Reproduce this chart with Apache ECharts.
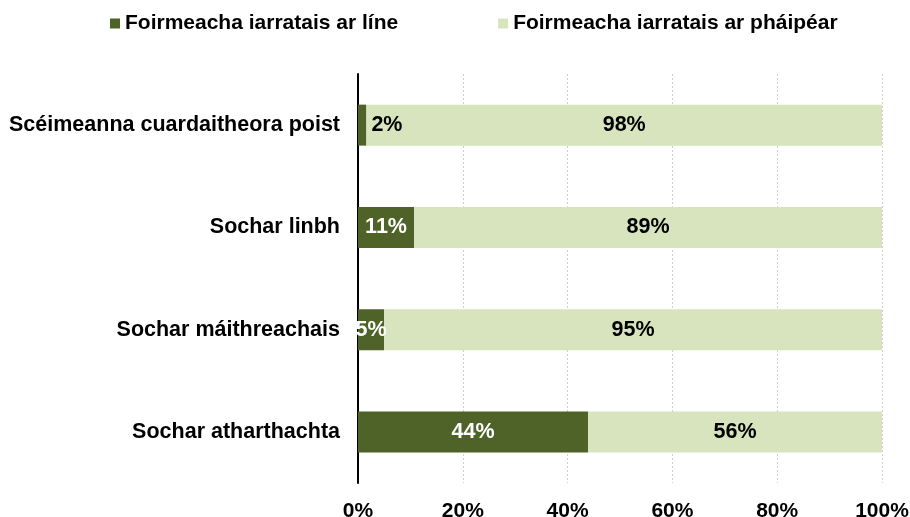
<!DOCTYPE html>
<html>
<head>
<meta charset="utf-8">
<script src="https://cdn.jsdelivr.net/npm/echarts@6/dist/echarts.min.js"></script>
<style>
    html, body {margin: 0; padding: 0; background: #fff;}
    #chart {width: 910px; height: 517px;}
</style>
</head>
<body>
<div id="chart"></div>
<script>
// categories, top to bottom
var categories = ['Scéimeanna cuardaitheora poist', 'Sochar linbh', 'Sochar máithreachais', 'Sochar atharthachta'];
var seriesNames = ['Foirmeacha iarratais ar líne', 'Foirmeacha iarratais ar pháipéar'];
// share of applications (%)
var onlineValues = [1.6, 10.7, 5.0, 43.9];
var paperValues = [98.4, 89.3, 95.0, 56.1];
var xTicks = [0, 20, 40, 60, 80, 100];

var FONT = '"Liberation Sans", Arial, sans-serif';
var DARK = '#4F6228';
var LIGHT = '#D7E4BD';

function pct(p) {
    return Math.round(p.value) + '%';
}

var chart = echarts.init(document.getElementById('chart'));

// small bars get their label outside, in black
var onlineData = onlineValues.map(function (v) {
    if (v < 3) {
        return {value: v, label: {position: 'right', distance: 5, color: '#000'}};
    }
    return v;
});

var labelStyle = {fontFamily: FONT, fontSize: 21.5, fontWeight: 'bold'};

var option = {
    animation: false,
    textStyle: {fontFamily: FONT},
    legend: {
        top: 8,
        left: 105,
        itemGap: 100,
        itemWidth: 10,
        itemHeight: 10,
        icon: 'rect',
        textStyle: {fontFamily: FONT, fontSize: 21, fontWeight: 'bold', color: '#000'},
        data: seriesNames
    },
    grid: {left: 358, right: 28, top: 74, bottom: 34, outerBoundsMode: 'none'},
    xAxis: {
        type: 'value',
        min: 0,
        max: 100,
        interval: 20,
        axisLine: {show: false},
        axisTick: {show: false},
        splitLine: {lineStyle: {color: '#cfcfcf', type: [2, 2], width: 1}},
        axisLabel: {
            margin: 18,
            fontFamily: FONT,
            fontSize: 21,
            fontWeight: 'bold',
            color: '#000',
            formatter: function (v) {
                return xTicks.indexOf(v) >= 0 ? v + '%' : '';
            }
        }
    },
    yAxis: {
        type: 'category',
        inverse: true,
        data: categories,
        axisLine: {lineStyle: {color: '#000', width: 2}},
        axisTick: {show: false},
        axisLabel: {margin: 18, fontFamily: FONT, fontSize: 21.5, fontWeight: 'bold', color: '#000'}
    },
    series: [
        {
            name: seriesNames[0],
            type: 'bar',
            stack: 'total',
            barWidth: 41,
            itemStyle: {color: DARK},
            label: echarts.util.extend({show: true, position: 'inside', color: '#fff', formatter: pct}, labelStyle),
            data: onlineData
        },
        {
            name: seriesNames[1],
            type: 'bar',
            stack: 'total',
            barWidth: 41,
            itemStyle: {color: LIGHT},
            label: echarts.util.extend({show: true, position: 'inside', color: '#000', formatter: pct}, labelStyle),
            data: paperValues
        }
    ]
};

chart.setOption(option);

window.onresize = function () {
    chart.resize();
};
</script>
</body>
</html>
